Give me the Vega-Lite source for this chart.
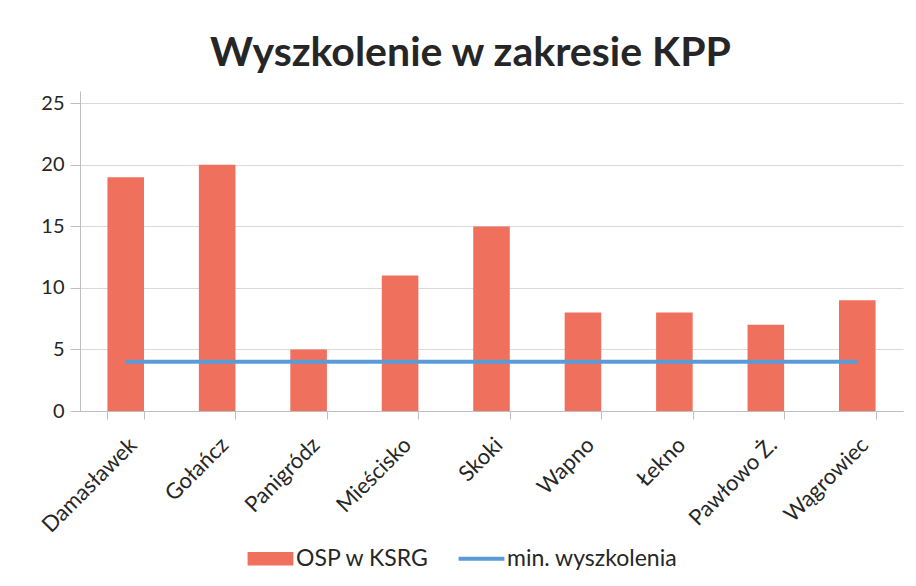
{
  "$schema": "https://vega.github.io/schema/vega-lite/v6.json",
  "width": 823,
  "height": 320,
  "autosize": {"type": "none"},
  "padding": {"left": 80, "top": 91, "right": 13, "bottom": 175},
  "background": "white",
  "title": {"text": "Wyszkolenie w zakresie KPP", "font": "Lato", "fontSize": 41, "fontWeight": "bold", "color": "#262626", "offset": 16, "anchor": "middle", "dx": -21},
  "data": {"values": [
    {"gmina": "Damasławek", "osp": 19, "min": 4},
    {"gmina": "Gołańcz", "osp": 20, "min": 4},
    {"gmina": "Panigródz", "osp": 5, "min": 4},
    {"gmina": "Mieścisko", "osp": 11, "min": 4},
    {"gmina": "Skoki", "osp": 15, "min": 4},
    {"gmina": "Wapno", "osp": 8, "min": 4},
    {"gmina": "Łekno", "osp": 8, "min": 4},
    {"gmina": "Pawłowo Ż.", "osp": 7, "min": 4},
    {"gmina": "Wągrowiec", "osp": 9, "min": 4}
  ]},
  "encoding": {
    "x": {"field": "gmina", "type": "nominal", "sort": null, "title": null,
      "scale": {"paddingInner": 0.6, "paddingOuter": 0.3},
      "axis": {"labelAngle": -45, "labelFont": "Lato", "labelFontSize": 22, "labelColor": "#262626", "labelPadding": 15, "domainColor": "#bfbfbf", "ticks": true, "tickBand": "extent", "tickSize": 8, "tickColor": "#bfbfbf", "grid": false}}
  },
  "layer": [
    {
      "mark": {"type": "bar"},
      "encoding": {
        "y": {"field": "osp", "type": "quantitative", "title": null,
          "scale": {"domain": [0, 25]},
          "axis": {"values": [0, 5, 10, 15, 20, 25], "labelFont": "Lato", "labelFontSize": 20, "labelColor": "#262626", "labelPadding": 6, "tickSize": 10, "tickColor": "#bfbfbf", "domainColor": "#bfbfbf", "gridColor": "#d9d9d9"}},
        "color": {"datum": "OSP w KSRG", "type": "nominal",
          "scale": {"domain": ["OSP w KSRG", "min. wyszkolenia"], "range": ["#F0705E", "#5B9BD5"]},
          "legend": {"orient": "none", "legendX": 179, "legendY": 456, "direction": "horizontal", "title": null,
            "labelFont": "Lato", "labelFontSize": 23, "labelColor": "#262626", "labelLimit": 400, "columnPadding": 20, "symbolSize": 2100, "labelOffset": 14,
            "encode": {"symbols": {"update": {
              "shape": {"signal": "datum.value === 'OSP w KSRG' ? 'M-1,-0.3H1V0.3H-1Z' : 'M-1,0H1'"},
              "strokeWidth": {"signal": "datum.value === 'OSP w KSRG' ? 0 : 4"}
            }}}}}
      }
    },
    {
      "mark": {"type": "line", "strokeWidth": 4},
      "encoding": {
        "y": {"field": "min", "type": "quantitative"},
        "color": {"datum": "min. wyszkolenia", "type": "nominal"}
      }
    }
  ],
  "config": {"view": {"stroke": null}}
}
